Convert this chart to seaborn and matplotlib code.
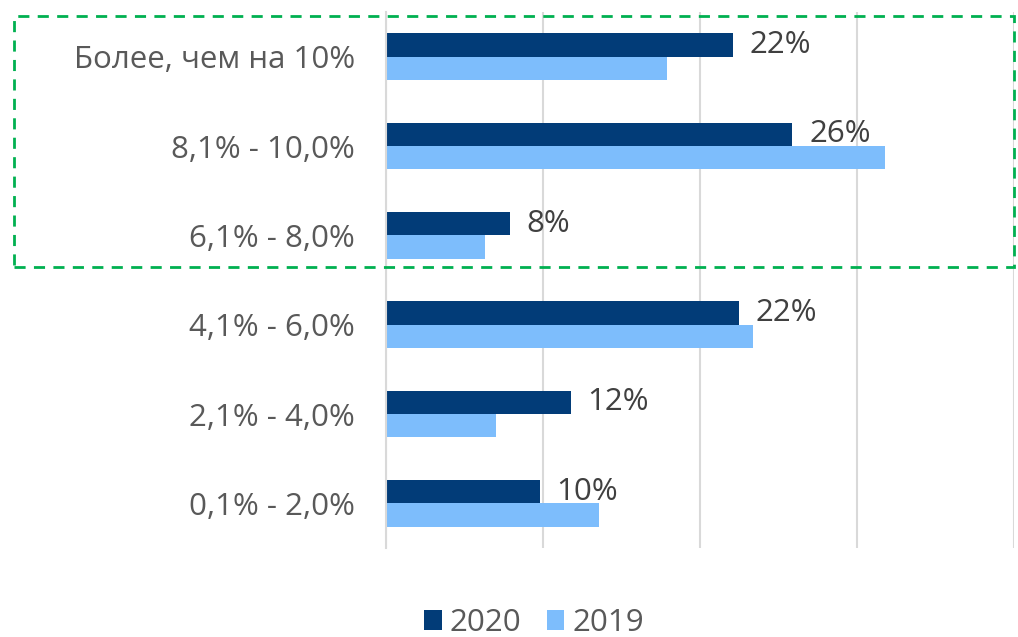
import numpy as np
import pandas as pd
import matplotlib
matplotlib.use('Agg')
import matplotlib.pyplot as plt
import seaborn as sns
from matplotlib.patches import Rectangle, Patch

# Данные
categories = ['Более, чем на 10%', '8,1% - 10,0%', '6,1% - 8,0%',
              '4,1% - 6,0%', '2,1% - 4,0%', '0,1% - 2,0%']
values_2020 = [22.1, 25.9, 7.9, 22.5, 11.8, 9.8]
values_2019 = [17.9, 31.8, 6.3, 23.4, 7.0, 13.6]
labels_2020 = ['22%', '26%', '8%', '22%', '12%', '10%']
years = ['2020', '2019']

df = pd.DataFrame({
    'cat': categories * 2,
    'val': values_2020 + values_2019,
    'year': [years[0]] * len(categories) + [years[1]] * len(categories),
})

sns.set_theme(style='white')
plt.rcParams['font.family'] = ['Open Sans', 'DejaVu Sans']

fig = plt.figure(figsize=(10.18, 6.37), dpi=100)
ax = fig.add_axes([0.3787, 0.1397, 0.6174, 0.8414])

palette = {'2020': '#023C78', '2019': '#7DBDFC'}
sns.barplot(data=df, y='cat', x='val', hue='year', hue_order=years,
            order=categories, palette=palette, orient='h', width=0.52,
            saturation=1, linewidth=0, ax=ax, legend=False)

ax.set_xlim(0, 40)
ax.set_ylim(len(categories) - 0.5, -0.5)
ax.set_xticks([0, 10, 20, 30, 40])
ax.set_xticklabels([])
ax.xaxis.grid(True, color='#D9D9D9', linewidth=1.5)
ax.yaxis.grid(False)
ax.set_axisbelow(True)
ax.set_xlabel('')
ax.set_ylabel('')
for s in ['top', 'right', 'bottom']:
    ax.spines[s].set_visible(False)
ax.spines['left'].set_color('#D9D9D9')
ax.spines['left'].set_linewidth(1.5)
ax.tick_params(axis='y', length=0, pad=22, labelsize=22.5, labelcolor='#595959')
ax.tick_params(axis='x', length=0)

# Подписи значений 2020
bars_2020 = ax.containers[0]
ax.bar_label(bars_2020, labels=labels_2020, padding=12, fontsize=22.5,
             color='#404040')

# Зелёная пунктирная рамка вокруг верхних трёх категорий
rect = Rectangle((14 / 1018, 1 - 267 / 637), 1000 / 1018, 251 / 637,
                 transform=fig.transFigure, fill=False, edgecolor='#00B050',
                 linewidth=2, linestyle=(0, (4, 3)), clip_on=False)
fig.patches.append(rect)

# Легенда
handles = [Patch(facecolor=palette[y], edgecolor='none') for y in years]
fig.legend(handles, years, loc='center', bbox_to_anchor=(0.5246, 0.022),
           ncol=2, frameon=False, fontsize=22.5, labelcolor='#595959',
           handlelength=0.57, handleheight=0.57, handletextpad=0.25,
           columnspacing=0.8)

fig.savefig('out.png', dpi=100)
